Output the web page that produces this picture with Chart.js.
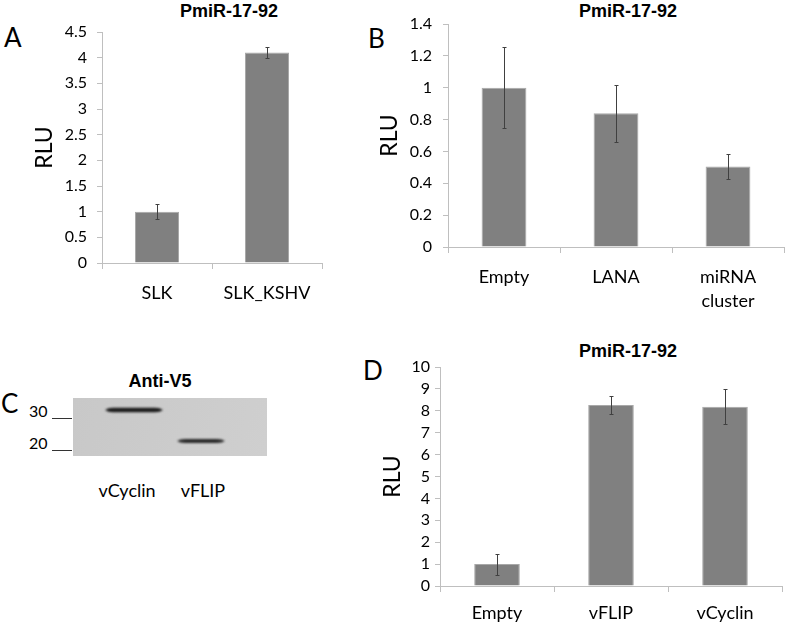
<!DOCTYPE html>
<html>
<head>
<meta charset="utf-8">
<script src="https://cdn.jsdelivr.net/npm/chart.js@4.4.1/dist/chart.umd.min.js"></script>
<style>
  body { margin: 0; background: #fff; width: 787px; height: 624px; position: relative; overflow: hidden; font-family: Lato, sans-serif; color: #000; }
  .abs { position: absolute; line-height: 1; white-space: nowrap; }
  .ttl { font: bold 18px "Liberation Sans", Arial, sans-serif; line-height: 1; transform: translateX(-50%); }
  .let { font-size: 26px; }
  .lane { font-size: 18px; transform: translateX(-50%); }
  .mw { font-size: 16px; }
  .mline { position: absolute; height: 0; border-top: 1.5px solid #333; }
</style>
</head>
<body>
<div class="abs let" style="left:4px;top:24px">A</div>
<div class="abs let" style="left:368px;top:25px">B</div>
<div class="abs let" style="left:1px;top:390px">C</div>
<div class="abs let" style="left:363px;top:357px">D</div>

<div class="abs ttl" style="left:229px;top:2px">PmiR-17-92</div>
<div class="abs ttl" style="left:628px;top:2px">PmiR-17-92</div>
<div class="abs ttl" style="left:628px;top:342px">PmiR-17-92</div>
<div class="abs ttl" style="left:160px;top:372px">Anti-V5</div>

<div class="abs" style="left:0;top:0"><canvas id="chartA" width="330" height="320"></canvas></div>
<div class="abs" style="left:360px;top:0"><canvas id="chartB" width="427" height="320"></canvas></div>
<div class="abs" style="left:360px;top:330px"><canvas id="chartD" width="427" height="294"></canvas></div>

<div class="abs" style="left:73px;top:398px"><canvas id="blot" width="194" height="58"></canvas></div>
<div id="blotText"></div>

<script>
// panel A
const catsA = ['SLK', 'SLK_KSHV'];
const valsA = [1.0, 4.1];
const errA = [0.15, 0.1];
const ticksA = [0, 0.5, 1, 1.5, 2, 2.5, 3, 3.5, 4, 4.5];

// panel B
const catsB = ['Empty', 'LANA', ['miRNA', 'cluster']];
const valsB = [1.0, 0.84, 0.505];
const errB = [0.255, 0.18, 0.078];
const ticksB = [0, 0.2, 0.4, 0.6, 0.8, 1, 1.2, 1.4];

// panel D
const catsD = ['Empty', 'vFLIP', 'vCyclin'];
const valsD = [1.0, 8.27, 8.18];
const errD = [0.48, 0.4, 0.8];
const ticksD = [0, 1, 2, 3, 4, 5, 6, 7, 8, 9, 10];

// panel C (western blot)
const blotLanes = ['vCyclin', 'vFLIP'];
const blotMarkers = ['30', '20'];

const axisGray = '#bfbfbf';

const errBars = {
  id: 'errbars',
  afterDatasetsDraw(chart, args, opts) {
    const ctx = chart.ctx;
    const y = chart.scales.y;
    const meta = chart.getDatasetMeta(0);
    const vals = chart.data.datasets[0].data;
    ctx.save();
    ctx.strokeStyle = '#404040';
    ctx.lineWidth = 1;
    meta.data.forEach((bar, i) => {
      const e = opts.errs[i];
      const x = Math.round(bar.x) + 0.5;
      const yt = Math.round(y.getPixelForValue(vals[i] + e)) + 0.5;
      const yb = Math.round(y.getPixelForValue(vals[i] - e)) + 0.5;
      ctx.beginPath();
      ctx.moveTo(x, yt); ctx.lineTo(x, yb);
      ctx.moveTo(x - 2, yt); ctx.lineTo(x + 2, yt);
      ctx.moveTo(x - 2, yb); ctx.lineTo(x + 2, yb);
      ctx.stroke();
    });
    ctx.restore();
  }
};

function barChart(id, cats, vals, errs, yTicks, g) {
  return new Chart(document.getElementById(id), {
    type: 'bar',
    data: {
      labels: cats,
      datasets: [{
        data: vals,
        backgroundColor: '#808080',
        borderColor: '#a8a8a8',
        borderWidth: 1,
        barPercentage: 0.4,
        categoryPercentage: 1
      }]
    },
    options: {
      responsive: false,
      animation: false,
      devicePixelRatio: 1,
      layout: { padding: { top: g.top, right: g.right, left: 0, bottom: 0 } },
      plugins: {
        legend: { display: false },
        tooltip: { enabled: false },
        errbars: { errs: errs }
      },
      scales: {
        x: {
          grid: { drawOnChartArea: false, tickLength: 6, color: axisGray, offset: true },
          border: { color: axisGray },
          ticks: {
            font: { family: 'Lato', size: 18, lineHeight: 1.33 },
            color: '#000',
            padding: g.xPad,
            maxRotation: 0,
            autoSkip: false
          },
          afterFit: s => { s.height = g.xH; }
        },
        y: {
          min: yTicks[0],
          max: yTicks[yTicks.length - 1],
          afterBuildTicks: s => { s.ticks = yTicks.map(v => ({ value: v })); },
          grid: { drawOnChartArea: false, tickLength: 5, color: axisGray },
          border: { color: axisGray },
          ticks: {
            font: { family: 'Lato', size: 16 },
            color: '#000',
            padding: g.yPad,
            autoSkip: false,
            callback: v => String(v)
          },
          title: {
            display: true,
            text: 'RLU',
            font: { family: 'Lato', size: 23 },
            color: '#000',
            padding: { top: g.titlePad, bottom: 0 }
          },
          afterFit: s => { s.width = g.axisW; }
        }
      }
    },
    plugins: [errBars]
  });
}

barChart('chartA', catsA, valsA, errA, ticksA,
  { top: 32, right: 8, axisW: 102, xH: 57, xPad: 12, yPad: 10, titlePad: 31 });
barChart('chartB', catsB, valsB, errB, ticksB,
  { top: 24, right: 3, axisW: 88, xH: 73, xPad: 12, yPad: 11, titlePad: 16 });
barChart('chartD', catsD, valsD, errD, ticksD,
  { top: 37, right: 5, axisW: 80, xH: 38, xPad: 9, yPad: 5, titlePad: 19 });

// blot picture
const bc = document.getElementById('blot').getContext('2d');
const bg = bc.createLinearGradient(0, 0, 194, 58);
bg.addColorStop(0, '#c8c8c8');
bg.addColorStop(1, '#cfcfcf');
bc.fillStyle = bg;
bc.fillRect(0, 0, 194, 58);

function band(x0, x1, yc, h, col) {
  bc.save();
  bc.filter = 'blur(1px)';
  bc.fillStyle = col;
  bc.beginPath();
  bc.moveTo(x0, yc);
  bc.quadraticCurveTo(x0 + 3, yc - h / 2, x0 + 8, yc - h / 2);
  bc.lineTo(x1 - 8, yc - h / 2);
  bc.quadraticCurveTo(x1 - 3, yc - h / 2, x1, yc);
  bc.quadraticCurveTo(x1 - 3, yc + h / 2, x1 - 8, yc + h / 2);
  bc.lineTo(x0 + 8, yc + h / 2);
  bc.quadraticCurveTo(x0 + 3, yc + h / 2, x0, yc);
  bc.fill();
  bc.restore();
}
band(32, 90, 12, 4.5, '#1c1c1c');
band(104, 152, 43, 3.8, '#2a2a2a');

// lane labels and size markers
const bt = document.getElementById('blotText');
const laneX = [127, 203];
blotLanes.forEach((t, i) => {
  bt.insertAdjacentHTML('beforeend',
    `<div class="abs lane" style="left:${laneX[i]}px;top:481px">${t}</div>`);
});
const markY = [418, 450];
blotMarkers.forEach((t, i) => {
  bt.insertAdjacentHTML('beforeend',
    `<div class="abs mw" style="left:29px;top:${markY[i] - 15}px">${t}</div>` +
    `<div class="mline" style="left:52px;width:20px;top:${markY[i]}px"></div>`);
});
</script>
</body>
</html>
